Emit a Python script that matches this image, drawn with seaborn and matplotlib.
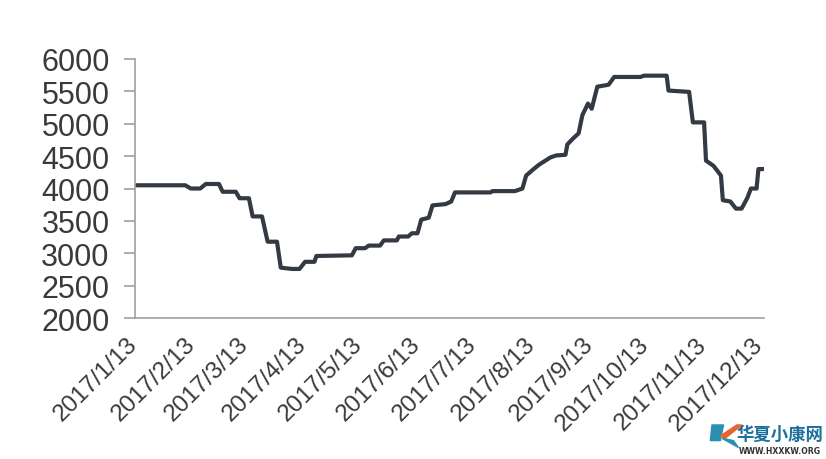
import pandas as pd
import seaborn as sns
import matplotlib
matplotlib.use('Agg')
import matplotlib.pyplot as plt
import matplotlib.transforms as mtransforms
from matplotlib.patches import Polygon

# price series (step-like daily quotes)
dates = ['2017-01-13', '2017-02-08', '2017-02-11', '2017-02-16', '2017-02-19', '2017-02-26',
         '2017-02-28', '2017-03-07', '2017-03-09', '2017-03-14', '2017-03-16', '2017-03-21',
         '2017-03-24', '2017-03-29', '2017-03-31', '2017-04-06', '2017-04-10', '2017-04-13',
         '2017-04-18', '2017-04-19', '2017-05-08', '2017-05-10', '2017-05-15', '2017-05-17',
         '2017-05-23', '2017-05-25', '2017-06-01', '2017-06-02', '2017-06-07', '2017-06-09',
         '2017-06-12', '2017-06-14', '2017-06-18', '2017-06-20', '2017-06-27', '2017-06-30',
         '2017-07-02', '2017-07-21', '2017-07-22', '2017-08-03', '2017-08-07', '2017-08-09',
         '2017-08-13', '2017-08-16', '2017-08-22', '2017-08-25', '2017-08-30', '2017-08-31',
         '2017-09-03', '2017-09-06', '2017-09-08', '2017-09-11', '2017-09-13', '2017-09-16',
         '2017-09-22', '2017-09-25', '2017-10-09', '2017-10-11', '2017-10-23', '2017-10-24',
         '2017-11-04', '2017-11-06', '2017-11-12', '2017-11-13', '2017-11-17', '2017-11-21',
         '2017-11-22', '2017-11-26', '2017-11-29', '2017-12-02', '2017-12-05', '2017-12-07',
         '2017-12-10', '2017-12-11', '2017-12-14']
values = [4050, 4050, 4000, 4000, 4070, 4070,
          3950, 3950, 3850, 3850, 3570, 3570,
          3180, 3180, 2780, 2760, 2760, 2870,
          2870, 2960, 2970, 3080, 3080, 3120,
          3120, 3200, 3200, 3260, 3260, 3310,
          3310, 3520, 3550, 3740, 3760, 3800,
          3940, 3940, 3960, 3960, 4000, 4200,
          4300, 4370, 4480, 4510, 4520, 4680,
          4770, 4850, 5130, 5310, 5230, 5570,
          5600, 5720, 5720, 5740, 5740, 5510,
          5490, 5020, 5020, 4430, 4350, 4200,
          3820, 3800, 3690, 3690, 3850, 4000,
          4000, 4300, 4300]

tick_dates = ['2017-%02d-13' % m for m in range(1, 13)]
tick_labels = ['2017/%d/13' % m for m in range(1, 13)]
y_ticks = [2000, 2500, 3000, 3500, 4000, 4500, 5000, 5500, 6000]

df = pd.DataFrame({'date': pd.to_datetime(dates), 'price': values})

sns.set_style('white')
plt.rcParams['font.family'] = ['Liberation Sans', 'DejaVu Sans']

fig = plt.figure(figsize=(8.26, 4.6), dpi=100)
ax = fig.add_axes([0.163, 0.306, 0.762, 0.564])
sns.lineplot(x='date', y='price', data=df, ax=ax, color='#333a44', linewidth=3.0)

ax.set_ylim(2000, 6000)
ax.set_xlim(pd.Timestamp('2017-01-12'), pd.Timestamp('2017-12-14'))
ax.set_yticks(y_ticks)
ax.set_yticklabels([str(v) for v in y_ticks], fontsize=22, color='#3a3a3a')
ax.set_xticks(pd.to_datetime(tick_dates))
ax.set_xticklabels(tick_labels, rotation=45, ha='right', rotation_mode='anchor',
                   fontsize=17.5, color='#3a3a3a')
ax.set_xlabel('')
ax.set_ylabel('')

for s in ['top', 'right']:
    ax.spines[s].set_visible(False)
for s in ['left', 'bottom']:
    ax.spines[s].set_color('#a0a0a0')
    ax.spines[s].set_linewidth(1.2)
ax.tick_params(axis='y', which='major', left=True, length=8, width=1.2, color='#a0a0a0', pad=10)
ax.tick_params(axis='x', which='major', bottom=False, pad=7)

# nudge the rotated date labels left so their ends sit under the ticks
shift = mtransforms.ScaledTranslation(-10 / 100, 0, fig.dpi_scale_trans)
for t in ax.xaxis.get_major_ticks():
    t.label1.set_transform(t.label1.get_transform() + shift)

# watermark
logo1 = Polygon([[0.862, 0.074], [0.876, 0.074], [0.872, 0.04], [0.86, 0.04]],
                closed=True, transform=fig.transFigure, color='#2b8fb0')
logo2 = Polygon([[0.872, 0.05], [0.892, 0.074], [0.898, 0.074], [0.878, 0.045]],
                closed=True, transform=fig.transFigure, color='#e8642a')
logo3 = Polygon([[0.874, 0.045], [0.894, 0.025], [0.888, 0.04]],
                closed=True, transform=fig.transFigure, color='#2b8fb0')
fig.patches.extend([logo1, logo2, logo3])
fig.text(0.892, 0.043, '华夏小康网', fontsize=12.5, fontweight='bold', color='#1d6f9e',
         family=['Noto Sans CJK SC', 'DejaVu Sans'])
fig.text(0.994, 0.012, 'WWW.HXXKW.ORG', fontsize=5.6, fontweight='bold', color='#333333',
         ha='right', family=['DejaVu Sans', 'Liberation Sans'])

fig.savefig('out.png', dpi=100)
